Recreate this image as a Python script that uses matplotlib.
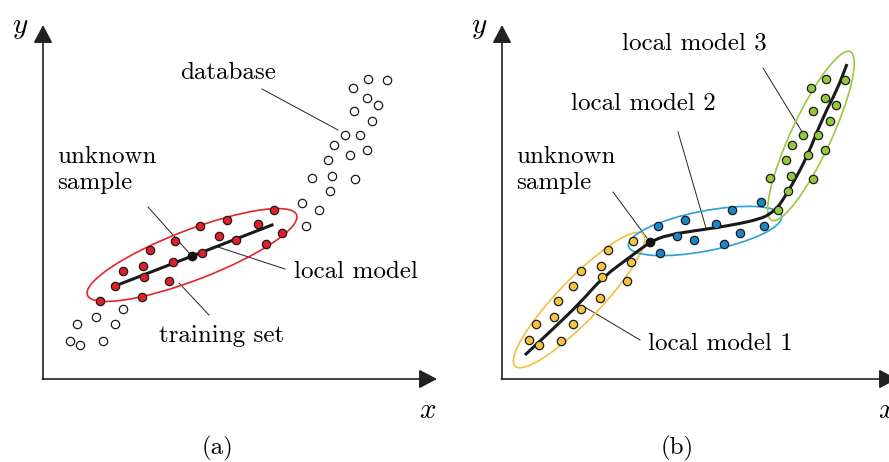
import matplotlib.pyplot as plt
from matplotlib.patches import Ellipse, PathPatch
from matplotlib.path import Path

plt.rcParams["mathtext.fontset"] = "cm"
SERIF = "cmr10"

# ---- panel (a): global database, one local model ----
db_x = [325, 344, 310, 324, 335, 311, 329, 302, 317, 291, 307, 324, 285, 289,
        312, 269, 287, 259, 276, 263, 80, 53, 72, 34, 27, 37, 60]
db_y = [300, 299, 291, 281, 274, 268, 258, 244, 244, 234, 224, 229, 219, 203,
        200, 201, 188, 176, 169, 153, 70, 62, 55, 55, 38, 34, 38]

train_x = [231, 184, 157, 215, 239, 176, 193, 223, 132, 107, 159, 130, 80,
           100, 101, 72, 126, 57, 99]
train_y = [169, 159, 153, 155, 146, 143, 139, 135, 138, 129, 126, 117, 108,
           113, 102, 93, 98, 78, 82]

query_a = (149, 123)
model_a_x = [72, 229]
model_a_y = [93, 154]

# ---- panel (b): three local models ----
m1_x = [131, 106, 129, 99, 79, 100, 125, 71, 56, 98, 52, 79, 34, 71, 27, 37, 59]
m1_y = [138, 129, 117, 113, 108, 102, 98, 93, 78, 81, 62, 70, 55, 55, 39, 34, 38]

m2_x = [156, 183, 230, 259, 214, 175, 192, 238, 262, 222, 158]
m2_y = [153, 159, 169, 177, 155, 143, 139, 146, 153, 135, 126]

m3_x = [324, 343, 309, 323, 334, 311, 328, 301, 316, 290, 306, 323, 284, 289,
        311, 268, 286, 276]
m3_y = [300, 299, 291, 281, 274, 268, 258, 244, 244, 234, 224, 229, 219, 203,
        200, 201, 188, 169]

query_b = (148, 137)
# control points of the piecewise model curve
curve_x = [23, 50, 78, 101, 128, 148, 165, 198, 231, 258, 268, 276, 282, 290,
           305, 321, 335, 345]
curve_y = [24, 49, 76, 102, 122, 137, 144, 149, 154, 160, 165, 172, 181, 194,
           222, 262, 289, 315]

fig = plt.figure(figsize=(8.89, 4.62), dpi=100)
ax_a = fig.add_axes([0, 0, 444 / 889, 1])
ax_b = fig.add_axes([444 / 889, 0, 445 / 889, 1])
ax_a.set_xlim(-43, 401)
ax_b.set_xlim(-58, 387)


def draw_frame(ax, tag, x_tip):
    ax.set_ylim(-83, 379)
    ax.axis("off")
    arrow = dict(arrowstyle="-|>,head_length=0.85,head_width=0.45",
                 mutation_scale=13, lw=1.2, color="#222222", shrinkA=0, shrinkB=0)
    ax.annotate("", xy=(0, 354), xytext=(0, -0.5), arrowprops=arrow,
                annotation_clip=False)
    ax.annotate("", xy=(x_tip, 0), xytext=(-0.5, 0), arrowprops=arrow,
                annotation_clip=False)
    ax.text(-23, 352, "$y$", fontsize=21, ha="center", va="center")
    ax.text(385, -31, "$x$", fontsize=21, ha="center", va="center")
    ax.text(175, -69, tag, fontsize=18, family=SERIF, ha="center", va="center")


def leader(ax, p0, p1):
    ax.plot([p0[0], p1[0]], [p0[1], p1[1]], color="#222222", lw=0.7, zorder=2)


def label(ax, x, y, s, ha="left"):
    ax.text(x, y, s, fontsize=18, family=SERIF, ha=ha, va="center",
            linespacing=1.2)


def dots(ax, xs, ys, face):
    ax.plot(xs, ys, "o", ms=6, mfc=face, mec="#1a1a1a", mew=0.9, ls="none",
            zorder=4)


def smooth_curve(ax, xs, ys):
    # quadratic Bezier pieces through the midpoints between control points
    pts = list(zip(xs, ys))
    verts, codes = [pts[0]], [Path.MOVETO]
    for i in range(1, len(pts) - 1):
        mid = ((pts[i][0] + pts[i + 1][0]) / 2, (pts[i][1] + pts[i + 1][1]) / 2)
        verts += [pts[i], mid]
        codes += [Path.CURVE3, Path.CURVE3]
    verts.append(pts[-1])
    codes.append(Path.LINETO)
    ax.add_patch(PathPatch(Path(verts, codes), fill=False, ec="#1a1a1a",
                           lw=2.2, zorder=3, capstyle="butt"))


# panel (a)
draw_frame(ax_a, "(a)", 394)
dots(ax_a, db_x, db_y, "white")
ax_a.add_patch(Ellipse((149, 124), 224, 50, angle=21, fill=False,
                       ec="#e3262b", lw=1.2, zorder=3))
ax_a.plot(model_a_x, model_a_y, color="#1a1a1a", lw=2.2, zorder=3)
dots(ax_a, train_x, train_y, "#e01f26")
ax_a.plot(*query_a, "o", ms=6, color="#111111", zorder=5)
leader(ax_a, (219, 290), (295, 249))
leader(ax_a, (105, 172), (147, 125))
leader(ax_a, (242, 110), (175, 132))
leader(ax_a, (166, 64), (136, 96))
label(ax_a, 185, 306, "database", ha="center")
label(ax_a, 14, 209, "unknown\nsample")
label(ax_a, 251, 107, "local model")
label(ax_a, 179, 43, "training set", ha="center")

# panel (b)
draw_frame(ax_b, "(b)", 395)
ax_b.add_patch(Ellipse((77, 79), 184, 42, angle=46, fill=False,
                       ec="#f2c03e", lw=1.2, zorder=3))
ax_b.add_patch(Ellipse((203, 148), 156, 40, angle=11, fill=False,
                       ec="#2a9fd8", lw=1.2, zorder=3))
ax_b.add_patch(Ellipse((309, 243), 186, 40, angle=65, fill=False,
                       ec="#9cc83c", lw=1.2, zorder=3))
smooth_curve(ax_b, curve_x, curve_y)
dots(ax_b, m1_x, m1_y, "#f6c33f")
dots(ax_b, m2_x, m2_y, "#1b87c8")
dots(ax_b, m3_x, m3_y, "#94c83a")
ax_b.plot(*query_b, "o", ms=6, color="#111111", zorder=5)
leader(ax_b, (261, 311), (302, 244))
leader(ax_b, (176, 247), (204, 151))
leader(ax_b, (111, 187), (145, 141))
leader(ax_b, (138, 39), (81, 73))
label(ax_b, 120, 336, "local model 3")
label(ax_b, 69, 275, "local model 2")
label(ax_b, 14, 209, "unknown\nsample")
label(ax_b, 146, 35, "local model 1")

fig.savefig("out.png", dpi=100)
